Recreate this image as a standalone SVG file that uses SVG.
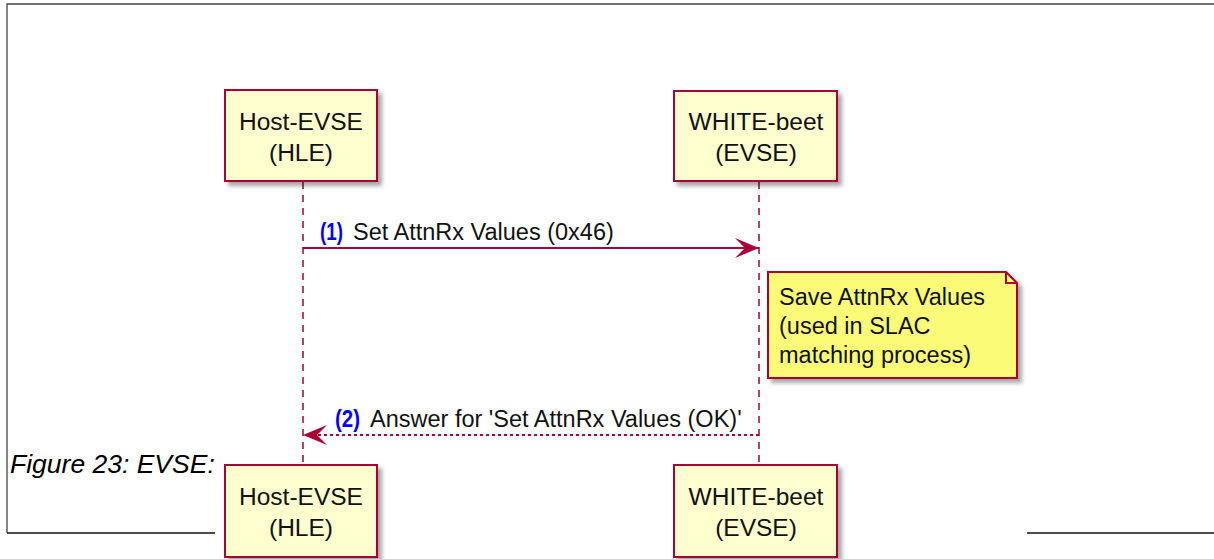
<svg xmlns="http://www.w3.org/2000/svg" width="1214" height="559" viewBox="0 0 1214 559">
<defs>
<filter id="sh" x="-10%" y="-10%" width="130%" height="130%">
<feGaussianBlur in="SourceAlpha" stdDeviation="2"/>
<feOffset dx="4" dy="4" result="b"/>
<feFlood flood-color="#000" flood-opacity="0.35"/>
<feComposite in2="b" operator="in"/>
<feMerge><feMergeNode/><feMergeNode in="SourceGraphic"/></feMerge>
</filter>
<marker id="ah" markerUnits="userSpaceOnUse" markerWidth="26" markerHeight="22" refX="24" refY="11" orient="auto">
<polygon points="0,1 24,11 0,21 10,11" fill="#A80036"/>
</marker>
</defs>
<style>
.frame{fill:none;stroke:#444;stroke-width:1.3}
.part{fill:#FEFECE;stroke:#A80036;stroke-width:2;filter:url(#sh)}
.ptxt{font-family:"Liberation Sans",Arial,sans-serif;font-size:24.5px;fill:#111;text-anchor:middle}
.life{stroke:#A80036;stroke-width:1.5;stroke-dasharray:7,6;fill:none}
.msg{stroke:#A80036;stroke-width:2;fill:none}
.txt{font-family:"Liberation Sans",Arial,sans-serif;font-size:23.5px;fill:#111}
.num{font-family:"Liberation Sans",Arial,sans-serif;font-size:23px;font-weight:bold;fill:#0000FF}
.note{fill:#FBFB77;stroke:#A80036;stroke-width:2;filter:url(#sh)}
.cap{font-family:"Liberation Sans",Arial,sans-serif;font-size:26.5px;font-style:italic;fill:#000}
</style>
<g id="frame">
<path class="frame" d="M7,533 V4 H1214"/>
<path d="M7,533 H215 M1027,533 H1214" stroke="#111" stroke-width="1.5" fill="none"/>
</g>
<g id="lifelines">
<line class="life" x1="303" y1="182" x2="303" y2="465"/>
<line class="life" x1="759" y1="182" x2="759" y2="465"/>
</g>
<g id="host-top">
<rect class="part" x="225" y="90" width="152" height="91"/>
<text class="ptxt" x="301" y="130">Host-EVSE</text>
<text class="ptxt" x="301" y="161">(HLE)</text>
</g>
<g id="white-top">
<rect class="part" x="674" y="91" width="163" height="90"/>
<text class="ptxt" x="756" y="130">WHITE-beet</text>
<text class="ptxt" x="756" y="161">(EVSE)</text>
</g>
<g id="host-bottom">
<rect class="part" x="225" y="465" width="152" height="92"/>
<text class="ptxt" x="301" y="505">Host-EVSE</text>
<text class="ptxt" x="301" y="536">(HLE)</text>
</g>
<g id="white-bottom">
<rect class="part" x="674" y="465" width="163" height="92"/>
<text class="ptxt" x="756" y="505">WHITE-beet</text>
<text class="ptxt" x="756" y="536">(EVSE)</text>
</g>
<g id="note">
<path class="note" d="M768,272 H1006 L1017,283 V378 H768 Z"/>
<path d="M1006,272 V283 H1017" fill="none" stroke="#A80036" stroke-width="2"/>
<text class="txt" x="779" y="305">Save AttnRx Values</text>
<text class="txt" x="779" y="334">(used in SLAC</text>
<text class="txt" x="779" y="363">matching process)</text>
</g>
<g id="connectors">
<line class="msg" x1="303" y1="248" x2="759" y2="248" marker-end="url(#ah)"/>
<text class="num" x="320" y="240" textLength="23" lengthAdjust="spacingAndGlyphs">(1)</text>
<text class="txt" x="353" y="240">Set AttnRx Values (0x46)</text>
<line class="msg" x1="759" y1="435" x2="303" y2="435" stroke-dasharray="3,3" marker-end="url(#ah)"/>
<text class="num" x="335" y="427" textLength="25" lengthAdjust="spacingAndGlyphs">(2)</text>
<text class="txt" x="370" y="427">Answer for 'Set AttnRx Values (OK)'</text>
</g>
<g id="caption">
<text class="cap" x="10" y="473">Figure 23: EVSE:</text>
</g>
</svg>
